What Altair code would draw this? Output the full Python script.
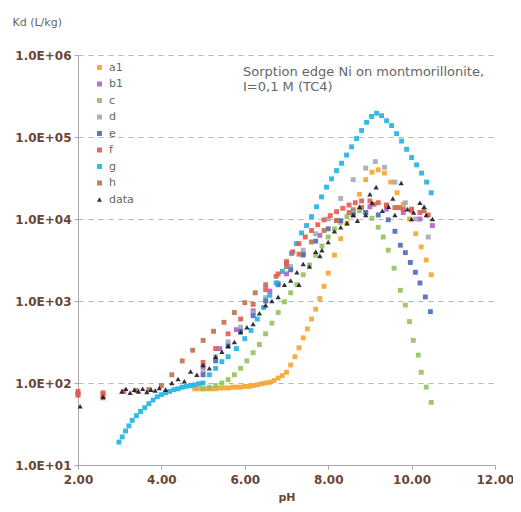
import altair as alt
import pandas as pd

series_order = ["a1", "b1", "c", "d", "e", "f", "g", "h", "data"]
series_colors = ["#f3a531", "#b65ec6", "#93c25a", "#a3a9b6", "#4a6cbd",
                 "#e65a4c", "#1fb1e4", "#c0704b", "#1b1b28"]

# a1 (orange)
a1_ph = [4.8, 4.9, 5.0, 5.1, 5.2, 5.3, 5.4, 5.5, 5.6, 5.7, 5.8, 5.9, 6.0, 6.1, 6.2, 6.3, 6.4, 6.5,
         6.6, 6.7, 6.8, 6.9, 7.0, 7.1, 7.2, 7.3, 7.4, 7.5, 7.6, 7.7, 7.8, 7.9, 8.0, 8.15, 8.3, 8.45,
         8.6, 8.75, 8.9, 9.05, 9.2, 9.35, 9.5, 9.65, 9.8, 9.95, 10.1, 10.23, 10.35, 10.47]
a1_kd = [85, 85, 85, 85, 85, 85, 87, 87, 87, 89, 89, 89, 91, 91, 93, 95, 98, 100,
         102, 107, 115, 123, 135, 166, 209, 269, 355, 457, 603, 794, 1070, 1510, 2190, 3630, 5750, 8910,
         13200, 20000, 30200, 37200, 39800, 36300, 28200, 20900, 15100, 10000, 6610, 4570, 3160, 2090]

# b1 (purple)
b1_ph = [5.0, 5.4, 5.8, 6.2, 6.6, 7.0, 7.4, 7.8, 8.2, 8.6, 9.0, 9.4, 9.8, 10.2, 10.5]
b1_kd = [158, 263, 447, 759, 1320, 2140, 3800, 6310, 9550, 12600, 14100, 13200, 12000, 10000, 8320]

# c (green)
c_ph = [5.0, 5.15, 5.3, 5.45, 5.6, 5.75, 5.9, 6.05, 6.2, 6.35, 6.5, 6.65, 6.8, 6.95, 7.1, 7.25, 7.4,
        7.55, 7.7, 7.85, 8.0, 8.15, 8.3, 8.45, 8.6, 8.75, 8.9, 9.05, 9.2, 9.32, 9.44, 9.58, 9.73,
        9.85, 9.95, 10.04, 10.16, 10.23, 10.35, 10.47]
c_kd = [85, 89, 93, 100, 110, 126, 151, 186, 234, 295, 398, 537, 724, 977, 1260, 1580, 2090,
        2750, 3630, 4680, 6030, 7590, 9120, 10700, 12000, 12600, 12000, 10200, 7940, 6030, 4170, 2510, 1350,
        891, 562, 331, 219, 135, 89, 58]

# d (grey)
d_ph = [5.0, 5.3, 5.6, 5.9, 6.2, 6.5, 6.8, 7.1, 7.4, 7.7, 8.0, 8.3, 8.6, 8.9, 9.13, 9.35, 9.6, 9.85, 10.1, 10.4]
d_kd = [141, 209, 316, 479, 724, 1100, 1660, 2630, 4170, 6610, 10000, 17800, 30200, 41700, 50100,
        42700, 28200, 15800, 10000, 6030]

# e (blue)
e_ph = [5.0, 5.3, 5.6, 5.9, 6.2, 6.5, 6.8, 7.1, 7.4, 7.7, 8.0, 8.3, 8.6, 8.9, 9.2, 9.44, 9.6, 9.73,
        9.85, 9.97, 10.09, 10.2, 10.33, 10.45]
e_kd = [126, 186, 282, 427, 661, 1000, 1580, 2400, 3630, 5370, 7590, 9550, 11200, 12000, 11200, 9770,
        7080, 4790, 3890, 2950, 2240, 1660, 1120, 741]

# f (red)
f_ph = [2.0, 2.0, 2.6, 2.6, 5.0, 5.3, 5.6, 5.9, 6.2, 6.5, 6.8, 7.0, 7.15, 7.3, 7.45, 7.6, 7.75, 7.9,
        8.05, 8.2, 8.35, 8.5, 8.65, 8.8, 9.0, 9.2, 9.4, 9.6, 9.8, 10.0, 10.2, 10.4]
f_kd = [79, 71, 76, 66, 178, 263, 398, 603, 912, 1380, 2140, 3020, 3980, 5010, 6030, 7240, 8510, 9770,
        11000, 12300, 13500, 14800, 15800, 16600, 16600, 15800, 14800, 13800, 13200, 12600, 12000, 11200]

# g (cyan)
g_ph = [2.98, 3.06, 3.14, 3.22, 3.3, 3.4, 3.5, 3.6, 3.7, 3.8, 3.9, 4.0, 4.1, 4.2, 4.3, 4.4, 4.5, 4.6,
        4.7, 4.8, 4.9, 5.0, 5.15, 5.3, 5.45, 5.6, 5.8, 6.0, 6.15, 6.3, 6.45, 6.6, 6.75, 6.9, 7.0, 7.12,
        7.24, 7.36, 7.48, 7.6, 7.72, 7.84, 7.96, 8.08, 8.2, 8.32, 8.44, 8.56, 8.68, 8.8, 8.92, 9.04,
        9.16, 9.28, 9.4, 9.52, 9.64, 9.76, 9.88, 10.0, 10.12, 10.24, 10.36, 10.47]
g_kd = [19, 22, 26, 30, 35, 40, 45, 50, 56, 62, 68, 72, 76, 79, 83, 85, 89, 91,
        93, 95, 98, 100, 126, 151, 182, 209, 263, 347, 437, 603, 832, 1170, 1660, 2290, 2880, 3800,
        5010, 6760, 8320, 10700, 14100, 18600, 24500, 30900, 38900, 47900, 60300, 75900, 95500, 120000,
        151000, 178000, 195000, 182000, 158000, 138000, 110000, 89100, 70800, 56200, 45700, 36300,
        28200, 20900]

# h (brown)
h_ph = [2.0, 2.6, 3.1, 3.4, 3.7, 4.0, 4.25, 4.5, 4.75, 5.0, 5.25, 5.5, 5.75, 6.0, 6.25, 6.5, 6.75,
        7.0, 7.3, 7.6, 7.9, 8.2, 8.5, 8.8, 9.1, 9.4, 9.7, 10.0, 10.3]
h_kd = [74, 72, 79, 81, 83, 93, 126, 186, 251, 331, 427, 550, 724, 955, 1260, 1580, 2000,
        2630, 3720, 5250, 7240, 9550, 12000, 13800, 15100, 14500, 13800, 13200, 12600]

# data (black triangles)
data_ph = [2.05, 2.6, 3.05, 3.15, 3.25, 3.35, 3.45, 3.55, 3.65, 3.75, 3.85, 3.95, 4.1, 4.25, 4.4,
           4.55, 4.7, 4.85, 5.0, 5.15, 5.3, 5.45, 5.6, 5.75, 5.9, 6.05, 6.2, 6.35, 6.5, 6.65, 6.8,
           6.95, 7.1, 7.25, 7.4, 7.55, 7.7, 7.85, 8.0, 8.15, 8.3, 8.45, 8.6, 8.75, 8.9, 9.05, 9.15,
           9.3, 9.45, 9.6, 9.75, 9.9, 10.05, 10.2, 10.35, 10.5, 8.7, 9.0, 9.55, 10.0, 10.3, 7.8, 7.3]
data_kd = [52, 68, 79, 85, 76, 83, 79, 85, 78, 83, 81, 87, 83, 100, 112,
           105, 138, 126, 166, 151, 209, 240, 282, 316, 417, 479, 525, 708, 891, 1000, 1120,
           1580, 1780, 2240, 2820, 2630, 3980, 4170, 5250, 7080, 7940, 8910, 11200, 14100, 11200, 15800, 24500,
           12600, 14100, 11200, 27500, 13200, 12000, 15800, 11200, 10000, 9550, 20000, 17800, 10000, 14100, 3550, 1580]

x_ticks = [2, 4, 6, 8, 10, 12]
y_ticks = [10, 100, 1000, 10000, 100000, 1000000]

annotation_lines = ["Sorption edge Ni on montmorillonite,", "I=0,1 M (TC4)"]

draw_order = [("a1", a1_ph, a1_kd), ("b1", b1_ph, b1_kd), ("c", c_ph, c_kd), ("d", d_ph, d_kd),
              ("e", e_ph, e_kd), ("g", g_ph, g_kd), ("h", h_ph, h_kd), ("f", f_ph, f_kd),
              ("data", data_ph, data_kd)]
rows = []
for name, phs, kds in draw_order:
    for p, k in zip(phs, kds):
        rows.append({"series": name, "pH": p, "Kd": k})
df = pd.DataFrame(rows)

label_color = "#6b4536"

points = alt.Chart(df).mark_point(filled=True, opacity=0.9, strokeWidth=0).encode(
    x=alt.X("pH:Q", scale=alt.Scale(domain=[2, 12], nice=False),
            axis=alt.Axis(values=x_ticks, format=".2f", title="pH", grid=False,
                          tickSize=4, labelPadding=5, titlePadding=6, labelFlush=False)),
    y=alt.Y("Kd:Q", scale=alt.Scale(type="log", domain=[10, 1000000], nice=False),
            axis=alt.Axis(values=y_ticks, title="Kd (L/kg)",
                          labelExpr="'1.0E+0' + round(log(datum.value) / LN10)",
                          grid=True, gridDash=[5, 5], gridColor="#b5b5b5",
                          tickSize=4, labelPadding=3, labelFlush=False,
                          titleAngle=0, titleAlign="left", titleBaseline="middle",
                          titleX=-66, titleY=-33, titleFontWeight="normal",
                          titleColor="#666666", titleFontSize=11)),
    color=alt.Color("series:N", scale=alt.Scale(domain=series_order, range=series_colors),
                    legend=alt.Legend(title=None, orient="none", legendX=16, legendY=7,
                                      padding=0, rowPadding=4.5, symbolSize=25,
                                      labelFontSize=11, labelColor="#666666",
                                      labelFont="DejaVu Sans", labelOffset=4)),
    shape=alt.Shape("series:N", scale=alt.Scale(
        domain=series_order,
        range=["square"] * 8 + ["triangle-up"]), legend=alt.Legend(title=None)),
    size=alt.condition(alt.datum.series == "data", alt.value(28), alt.value(24)),
)

ann = alt.Chart(pd.DataFrame({"t": ["\n".join(annotation_lines)]})).mark_text(
    align="left", baseline="middle", fontSize=13, lineHeight=15, lineBreak="\n",
    font="DejaVu Sans", color="#666666").encode(
    text="t:N",
    x=alt.value(165),
    y=alt.value(17),
)

chart = alt.layer(points, ann).properties(
    width=417, height=410,
    autosize=alt.AutoSizeParams(type="none"),
    padding={"left": 70, "top": 47, "right": 18, "bottom": 39},
).configure_view(stroke=None).configure_axis(
    domainColor="#a9a9a9", tickColor="#a9a9a9",
    labelColor=label_color, labelFont="DejaVu Sans", labelFontSize=12, labelFontWeight="bold",
    titleFont="DejaVu Sans",
).configure_axisX(titleColor=label_color, titleFontSize=11, titleFontWeight="bold")

chart.save("out.html", embed_options={"renderer": "svg", "actions": False})
